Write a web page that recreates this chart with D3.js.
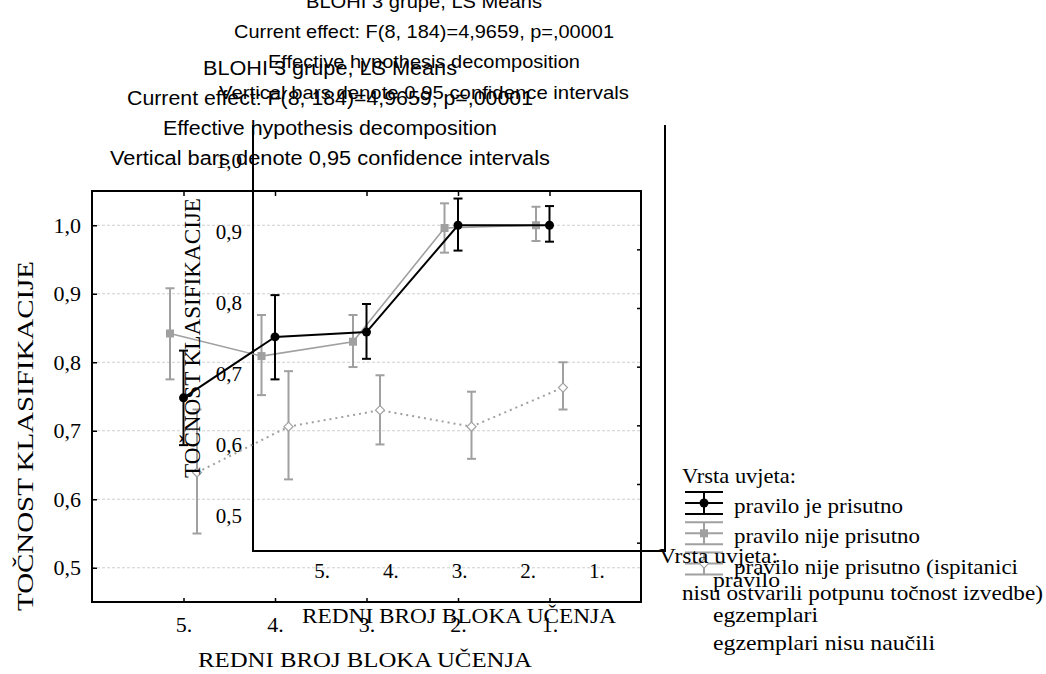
<!DOCTYPE html>
<html>
<head>
<meta charset="utf-8">
<script src="https://cdn.jsdelivr.net/npm/d3@7"></script>
<style>
  html, body { margin: 0; padding: 0; background: #fff; }
  svg { display: block; }
  .serif { font-family: "Liberation Serif", "Times New Roman", serif; fill: #000; }
  .sans { font-family: "Liberation Sans", Arial, sans-serif; fill: #000; }
</style>
</head>
<body>
<svg id="chart" width="1046" height="674"></svg>
<script>
// Learning blocks (x categories)
const blocks = ["5.", "4.", "3.", "2.", "1."];
const yTicks = [0.5, 0.6, 0.7, 0.8, 0.9, 1.0];

// LS means with 0,95 confidence limits per condition
const ruleMean  = [0.748, 0.837, 0.844, 1.000, 1.000];
const ruleLow   = [0.679, 0.775, 0.805, 0.963, 0.976];
const ruleHigh  = [0.817, 0.898, 0.885, 1.039, 1.028];

const noRuleMean = [0.842, 0.809, 0.830, 0.996, 1.000];
const noRuleLow  = [0.775, 0.752, 0.793, 0.960, 0.977];
const noRuleHigh = [0.908, 0.869, 0.869, 1.032, 1.027];

const partialMean = [0.639, 0.706, 0.730, 0.706, 0.763];
const partialLow  = [0.550, 0.629, 0.680, 0.659, 0.731];
const partialHigh = [0.731, 0.787, 0.781, 0.757, 0.800];

const seriesNames = ["pravilo je prisutno", "pravilo nije prisutno", "pravilo nije prisutno (ispitanici"];
const seriesNameCont = "nisu ostvarili potpunu točnost izvedbe)";
const legendTitle = "Vrsta uvjeta:";
const legend2Lines = ["pravilo", "egzemplari", "egzemplari nisu naučili"];

const titleLines = [
  "BLOHI 3 grupe, LS Means",
  "Current effect: F(8, 184)=4,9659, p=,00001",
  "Effective hypothesis decomposition",
  "Vertical bars denote 0,95 confidence intervals"
];
const xTitle = "REDNI BROJ BLOKA UČENJA";
const yTitle = "TOČNOST KLASIFIKACIJE";

const GRAY = "#a0a0a0";
const svg = d3.select("#chart");
const fmt = v => d3.format(".1f")(v).replace(".", ",");
const noDomain = g => g.select(".domain").remove();

// ---- main panel scales
const xA = d3.scalePoint().domain(blocks).range([92, 641]).padding(1);
const yA = d3.scaleLinear().domain([0.45, 1.05]).range([602, 191]);
const yARight = d3.scaleLinear().domain([0.45, 1.05]).range([572, 220]);

// ---- inset panel scales
const xB = d3.scalePoint().domain(blocks).range([253, 665]).padding(1);
const yB = d3.scaleLinear().domain([0.45, 1.05]).range([551, 125]);

// gridlines
svg.append("g").selectAll("line").data(yTicks).join("line")
  .attr("x1", xA.range()[0]).attr("x2", xA.range()[1])
  .attr("y1", d => yA(d)).attr("y2", d => yA(d))
  .attr("stroke", "#cfcfcf").attr("stroke-width", 1).attr("stroke-dasharray", "3,2");

// main frame
svg.append("rect")
  .attr("x", xA.range()[0]).attr("y", yA.range()[1])
  .attr("width", xA.range()[1] - xA.range()[0]).attr("height", yA.range()[0] - yA.range()[1])
  .attr("fill", "none").attr("stroke", "#000").attr("stroke-width", 2);

// main axes
const axL = svg.append("g").attr("transform", `translate(${xA.range()[0]},0)`)
  .call(d3.axisLeft(yA).tickValues(yTicks).tickSize(-5).tickPadding(11).tickFormat(fmt)).call(noDomain);
const axBm = svg.append("g").attr("transform", `translate(0,${yA.range()[0]})`)
  .call(d3.axisBottom(xA).tickSize(-4).tickPadding(14)).call(noDomain);
svg.append("g").attr("transform", `translate(0,${yA.range()[1]})`)
  .call(d3.axisTop(xA).tickSize(-5).tickFormat("")).call(noDomain);
svg.append("g").attr("transform", `translate(${xA.range()[1]},0)`)
  .call(d3.axisRight(yARight).tickValues(yTicks).tickSize(-4).tickFormat("")).call(noDomain);
[axL, axBm].forEach(g => g.selectAll("text").attr("class", "serif").attr("font-size", 22).attr("fill", "#000"));
svg.selectAll(".tick line").attr("stroke", "#000").attr("stroke-width", 1.5);

// inset frame (open top)
svg.append("path")
  .attr("d", `M${xB.range()[0]},${yB.range()[1]}V${yB.range()[0]}H${xB.range()[1]}V${yB.range()[1]}`)
  .attr("fill", "none").attr("stroke", "#000").attr("stroke-width", 2);
const bL = svg.append("g").attr("transform", `translate(${xB.range()[0]},0)`)
  .call(d3.axisLeft(yB).tickValues(yTicks).tickSize(0).tickPadding(11).tickFormat(fmt)).call(noDomain);
const bB = svg.append("g").attr("transform", `translate(0,${yB.range()[0]})`)
  .call(d3.axisBottom(xB).tickSize(0).tickPadding(12)).call(noDomain);
[bL, bB].forEach(g => g.selectAll("text").attr("class", "serif").attr("font-size", 21).attr("fill", "#000"));

// ---- data series
const series = [
  { mean: partialMean, low: partialLow, high: partialHigh, dx: 13.5, color: GRAY, width: 2, dash: "2,4", marker: "diamond" },
  { mean: noRuleMean, low: noRuleLow, high: noRuleHigh, dx: -13.5, color: GRAY, width: 1.6, dash: null, marker: "square" },
  { mean: ruleMean, low: ruleLow, high: ruleHigh, dx: 0, color: "#000", width: 2, dash: null, marker: "circle" }
];

function drawMarker(g, kind, x, y) {
  if (kind === "circle") {
    g.append("circle").attr("cx", x).attr("cy", y).attr("r", 4.5).attr("fill", "#000");
  } else if (kind === "square") {
    g.append("rect").attr("x", x - 4).attr("y", y - 4).attr("width", 8).attr("height", 8).attr("fill", GRAY);
  } else {
    g.append("path").attr("d", `M${x},${y - 4.5}L${x + 4.5},${y}L${x},${y + 4.5}L${x - 4.5},${y}Z`)
      .attr("fill", "#fff").attr("stroke", GRAY).attr("stroke-width", 1.2);
  }
}

series.forEach(s => {
  const g = svg.append("g");
  const pts = blocks.map((b, i) => [xA(b) + s.dx, yA(s.mean[i])]);
  g.append("path").attr("d", d3.line()(pts))
    .attr("fill", "none").attr("stroke", s.color).attr("stroke-width", s.width)
    .attr("stroke-dasharray", s.dash);
  blocks.forEach((b, i) => {
    const x = xA(b) + s.dx, y1 = yA(s.low[i]), y2 = yA(s.high[i]);
    g.append("line").attr("x1", x).attr("x2", x).attr("y1", y1).attr("y2", y2)
      .attr("stroke", s.color).attr("stroke-width", 2);
    [y1, y2].forEach(y => g.append("line").attr("x1", x - 4.5).attr("x2", x + 4.5)
      .attr("y1", y).attr("y2", y).attr("stroke", s.color).attr("stroke-width", 2));
  });
  blocks.forEach((b, i) => drawMarker(g, s.marker, xA(b) + s.dx, yA(s.mean[i])));
});

// ---- axis titles
function txt(cls, x, y, str, size, len, anchor, rot) {
  const t = svg.append("text").attr("class", cls).attr("font-size", size)
    .attr("text-anchor", anchor || "start").text(str);
  if (rot) t.attr("transform", `translate(${x},${y}) rotate(-90)`);
  else t.attr("x", x).attr("y", y);
  if (len) t.attr("textLength", len).attr("lengthAdjust", "spacingAndGlyphs");
  return t;
}
txt("serif", 365, 667, xTitle, 22, 334, "middle");
txt("serif", 459, 623, xTitle, 21, 314, "middle");
txt("serif", 33, 436, yTitle, 24, 350, "middle", true);
txt("serif", 200, 338, yTitle, 24, 280, "middle", true);

// ---- titles (two stacked copies)
const titleA = { cx: 330, base: [75, 105, 135, 165], len: [254, 406, 334, 440], size: 20 };
const titleB = { cx: 424, base: [8, 38, 68, 99], len: [236, 380, 312, 410], size: 19 };
[titleA, titleB].forEach(t => titleLines.forEach((line, i) =>
  txt("sans", t.cx, t.base[i], line, t.size, t.len[i], "middle")));

// ---- legend with error-bar glyphs
txt("serif", 682, 483, legendTitle, 22, 114);
const legendSeries = [series[2], series[1], series[0]];
const legendLen = [169, 186, 284];
legendSeries.forEach((s, i) => {
  const yc = 503 + i * 30.3, x0 = 685, x1 = 723, xc = (x0 + x1) / 2;
  const g = svg.append("g");
  [yc - 11, yc, yc + 11].forEach(y => g.append("line")
    .attr("x1", x0).attr("x2", x1).attr("y1", y).attr("y2", y)
    .attr("stroke", s.color).attr("stroke-width", 2));
  g.append("line").attr("x1", xc).attr("x2", xc).attr("y1", yc - 11).attr("y2", yc + 11)
    .attr("stroke", s.color).attr("stroke-width", 2);
  drawMarker(g, s.marker, xc, yc);
  txt("serif", 734, yc + 10, seriesNames[i], 22, legendLen[i]);
});
txt("serif", 682, 600, seriesNameCont, 22, 361);

// second legend block
txt("serif", 659, 563, legendTitle, 22, 119);
const leg2Base = [587, 622, 650];
const leg2Len = [67, 105, 222];
legend2Lines.forEach((l, i) => txt("serif", 713, leg2Base[i], l, 22, leg2Len[i]));
</script>
</body>
</html>
